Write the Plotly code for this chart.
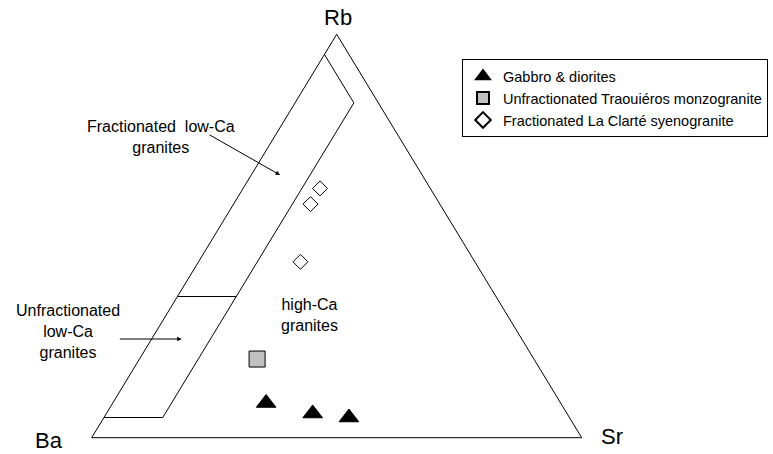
import plotly.graph_objects as go

# Ternary data, fractions of (Rb, Ba, Sr)
gabbro_rb = [0.086, 0.060, 0.050]
gabbro_ba = [0.601, 0.519, 0.450]
gabbro_sr = [0.313, 0.421, 0.500]

traou_rb = [0.195]
traou_ba = [0.565]
traou_sr = [0.240]

clarte_rb = [0.618, 0.579, 0.436]
clarte_ba = [0.225, 0.264, 0.356]
clarte_sr = [0.157, 0.157, 0.208]

# triangle frame and low-Ca field boundaries
frame_rb = [1, 0, 0, 1]
frame_ba = [0, 1, 0, 0]
frame_sr = [0, 0, 1, 0]

lowca_rb = [0.05, 0.05, 0.83, 0.95]
lowca_ba = [0.95, 0.83, 0.05, 0.05]
lowca_sr = [0.00, 0.12, 0.12, 0.00]

split_rb = [0.35, 0.35]
split_ba = [0.65, 0.53]
split_sr = [0.00, 0.12]


def to_xy(rb, ba, sr):
    # Ba at left corner, Sr at right corner, Rb at apex
    x = [s / (r + b + s) + 0.5 * r / (r + b + s) for r, b, s in zip(rb, ba, sr)]
    y = [r / (r + b + s) for r, b, s in zip(rb, ba, sr)]
    return x, y


FONT = "Liberation Sans, Arial, sans-serif"
W, H = 773, 454

fig = go.Figure()

for rb, ba, sr in [(frame_rb, frame_ba, frame_sr),
                   (lowca_rb, lowca_ba, lowca_sr),
                   (split_rb, split_ba, split_sr)]:
    x, y = to_xy(rb, ba, sr)
    fig.add_trace(go.Scatter(x=x, y=y, mode="lines", showlegend=False,
                             line=dict(color="black", width=1), hoverinfo="skip"))

x, y = to_xy(gabbro_rb, gabbro_ba, gabbro_sr)
fig.add_trace(go.Scatter(x=x, y=y, mode="markers", name="Gabbro & diorites",
                         marker=dict(symbol="triangle-up", size=17, color="black",
                                     line=dict(color="black", width=1))))

x, y = to_xy(traou_rb, traou_ba, traou_sr)
fig.add_trace(go.Scatter(x=x, y=y, mode="markers",
                         name="Unfractionated Traouiéros monzogranite",
                         marker=dict(symbol="square", size=16, color="#c0c0c0",
                                     line=dict(color="black", width=1))))

x, y = to_xy(clarte_rb, clarte_ba, clarte_sr)
fig.add_trace(go.Scatter(x=x, y=y, mode="markers",
                         name="Fractionated La Clarté syenogranite",
                         marker=dict(symbol="diamond", size=11.5, color="white",
                                     line=dict(color="black", width=1))))


def px(xp, yp):
    # window pixel -> paper fraction
    return xp / W, 1 - yp / H


annots = [
    ("Rb", 337.7, 17.5, 22),
    ("Ba", 49, 440, 22),
    ("Sr", 612, 436, 22),
    ("Fractionated\u00a0 low-Ca<br>granites", 161, 137.5, 16),
    ("Unfractionated<br>low-Ca<br>granites", 68, 331, 16),
    ("high-Ca<br>granites", 309, 315, 16),
]
for txt, xp, yp, fs in annots:
    ax_, ay_ = px(xp, yp)
    fig.add_annotation(x=ax_, y=ay_, xref="paper", yref="paper", text=txt,
                       showarrow=False, align="center",
                       xanchor="center", yanchor="middle",
                       font=dict(family=FONT, size=fs, color="black"))

# pointer arrows
for tip, tail in [((280, 175), (208, 134)), ((181.7, 339), (118.3, 339))]:
    tx, ty = px(*tip)
    fig.add_annotation(x=tx, y=ty, xref="paper", yref="paper", text="",
                       showarrow=True, arrowhead=2, arrowsize=0.9, arrowwidth=1,
                       arrowcolor="black", ax=tail[0] - tip[0], ay=tail[1] - tip[1])

fig.update_xaxes(range=[-91.7 / 490, (W - 91.7) / 490], visible=False)
fig.update_yaxes(range=[(437.7 - H) / 403.4, 437.7 / 403.4], visible=False)

lx, ly = px(768, 59.3)
fig.update_layout(
    width=W, height=H,
    margin=dict(l=0, r=0, t=0, b=0),
    plot_bgcolor="white", paper_bgcolor="white",
    font=dict(family=FONT, color="black"),
    legend=dict(x=lx, y=ly, xanchor="right", yanchor="top",
                bgcolor="white", bordercolor="black", borderwidth=1,
                font=dict(family=FONT, size=14.5), tracegroupgap=0,
                itemsizing="constant"),
)

# drop the default 8px body margin so the figure fills the window exactly
fig.write_html("out.html", config={"displayModeBar": False},
               post_script="document.body.style.margin='0';")
